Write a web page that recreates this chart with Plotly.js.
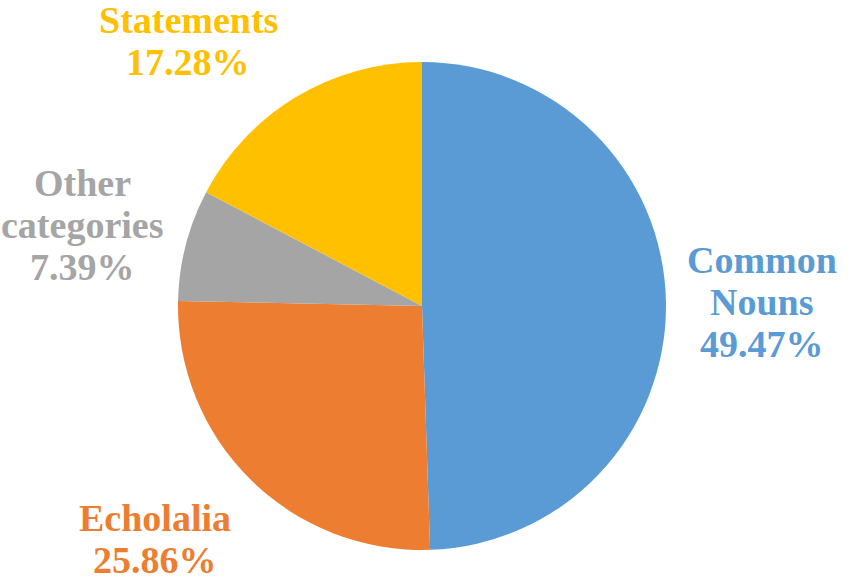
<!DOCTYPE html>
<html>
<head>
<meta charset="utf-8">
<script src="https://cdn.plot.ly/plotly-3.0.1.min.js"></script>
<style>html,body{margin:0;padding:0;background:#fff;} #chart{width:854px;height:583px;}</style>
</head>
<body>
<div id="chart"></div>
<script>
const categories = ["Common Nouns", "Echolalia", "Other categories", "Statements"];
const values = [49.47, 25.86, 7.39, 17.28];
const colors = ["#5B9BD5", "#ED7D31", "#A5A5A5", "#FFC000"];
// label line breaks as displayed
const labelLines = [["Common", "Nouns"], ["Echolalia"], ["Other", "categories"], ["Statements"]];

const W = 854, H = 583;
const cx = 422, cy = 306, r = 244;
// label anchor (centre x, first line y) in pixels, layout only
const labelPos = [[762, 260], [155, 518], [82, 183], [188, 20]];
const lineGap = 42;

const annotations = [];
categories.forEach((c, i) => {
  const lines = labelLines[i].concat([values[i].toFixed(2) + "%"]);
  lines.forEach((t, j) => {
    annotations.push({
      text: "<b>" + t + "</b>",
      xref: "paper", yref: "paper",
      x: labelPos[i][0] / W,
      y: 1 - (labelPos[i][1] + j * lineGap) / H,
      xanchor: "center", yanchor: "middle",
      showarrow: false,
      font: {family: "Times New Roman", size: 38, color: colors[i]}
    });
  });
});

const trace = {
  type: "pie",
  labels: categories,
  values: values,
  sort: false,
  direction: "clockwise",
  rotation: 0,
  textinfo: "none",
  hoverinfo: "label+percent",
  marker: {colors: colors, line: {width: 0}},
  domain: {x: [(cx - r) / W, (cx + r) / W], y: [1 - (cy + r) / H, 1 - (cy - r) / H]},
  showlegend: false
};

Plotly.newPlot("chart", [trace], {
  width: W, height: H,
  margin: {l: 0, r: 0, t: 0, b: 0},
  paper_bgcolor: "#ffffff",
  showlegend: false,
  font: {family: "Times New Roman"},
  annotations: annotations
}, {displayModeBar: false, staticPlot: true});
</script>
</body>
</html>
